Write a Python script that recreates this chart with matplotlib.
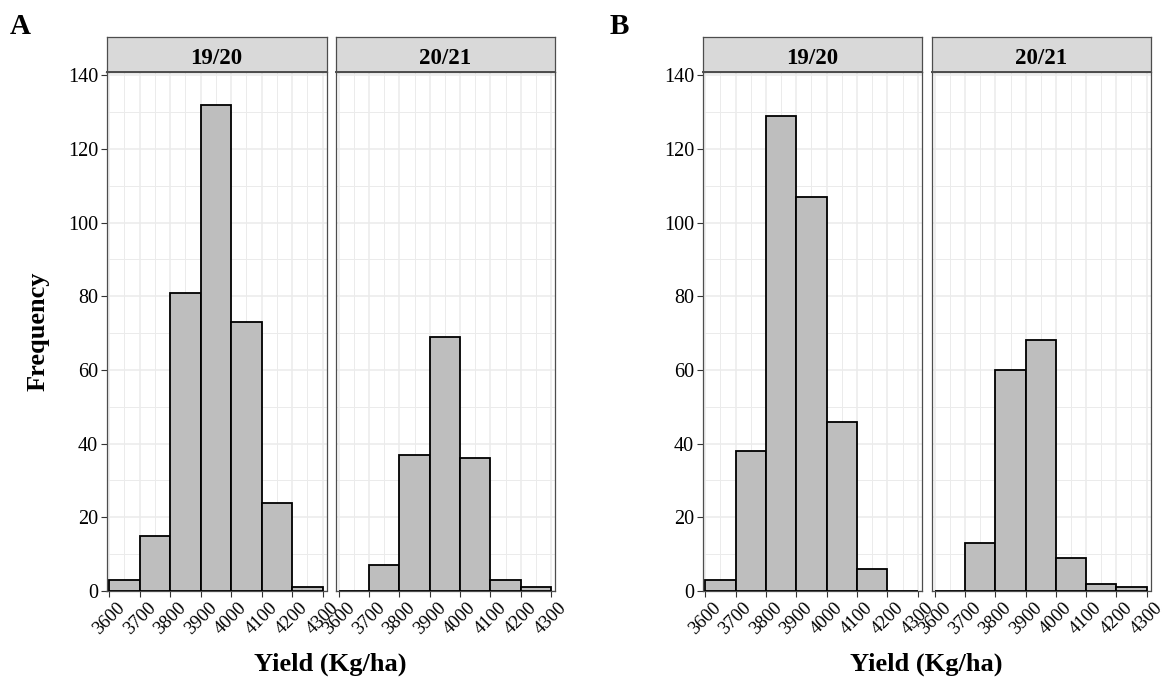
import numpy as np
import matplotlib
matplotlib.use("Agg")
import matplotlib.pyplot as plt
from matplotlib.ticker import MultipleLocator

plt.rcParams['font.family'] = ['Liberation Serif', 'DejaVu Serif']

# bin left edges (binwidth 100)
bin_edges = [3600, 3700, 3800, 3900, 4000, 4100, 4200]
seasons = ["19/20", "20/21"]

# panel A counts
A_1920 = [3, 15, 81, 132, 73, 24, 1]
A_2021 = [0, 7, 37, 69, 36, 3, 1]
# panel B counts
B_1920 = [3, 38, 129, 107, 46, 6, 0]
B_2021 = [0, 13, 60, 68, 9, 2, 1]

x_ticks = [3600, 3700, 3800, 3900, 4000, 4100, 4200, 4300]
y_ticks = [0, 20, 40, 60, 80, 100, 120, 140]

W, H = 1173, 682
fig = plt.figure(figsize=(W / 100, H / 100), dpi=100)

top_px, bot_px, strip_top_px = 71.5, 591.0, 36.7
# facet x spans in pixels
spans = {
    "A": [(106.5, 326.5), (336.0, 555.0)],
    "B": [(702.5, 921.7), (932.3, 1150.5)],
}
data = {"A": [A_1920, A_2021], "B": [B_1920, B_2021]}
border = "#4d4d4d"


def px_rect(x0, x1, y0, y1):
    return [x0 / W, 1 - y1 / H, (x1 - x0) / W, (y1 - y0) / H]


for panel in ["A", "B"]:
    for k, (x0, x1) in enumerate(spans[panel]):
        ax = fig.add_axes(px_rect(x0, x1, top_px, bot_px))
        counts = data[panel][k]
        ax.set_axisbelow(True)
        ax.bar(bin_edges, counts, width=100, align='edge', color='#bebebe',
               edgecolor='black', linewidth=1.3, zorder=3)
        ax.set_xlim(3591, 4313)
        ax.set_ylim(0, 141)
        ax.set_xticks(x_ticks)
        ax.set_xticklabels([str(v) for v in x_ticks], rotation=45,
                           ha='center', va='top', fontsize=13.5)
        ax.xaxis.set_minor_locator(MultipleLocator(50))
        ax.set_yticks(y_ticks)
        ax.yaxis.set_minor_locator(MultipleLocator(10))
        ax.grid(which='major', color='#ebebeb', linewidth=1.1)
        ax.grid(which='minor', color='#ebebeb', linewidth=0.7)
        ax.tick_params(which='minor', length=0)
        ax.tick_params(which='major', length=4, width=0.8, color='#333333',
                       labelsize=13.5, pad=2)
        if k == 0:
            ax.set_yticklabels([str(v) for v in y_ticks], fontsize=14.5)
        else:
            ax.tick_params(axis='y', length=0, labelleft=False)
        for s in ax.spines.values():
            s.set_color(border)
            s.set_linewidth(0.9)

        # strip on top
        sax = fig.add_axes(px_rect(x0, x1, strip_top_px, top_px))
        sax.set_facecolor('#d9d9d9')
        sax.set_xticks([])
        sax.set_yticks([])
        for s in sax.spines.values():
            s.set_color(border)
            s.set_linewidth(0.9)
        sax.spines['bottom'].set_linewidth(1.4)
        sax.text(0.5, 0.36, seasons[k], transform=sax.transAxes, ha='center',
                 va='center', fontsize=16.5, fontweight='bold')

    xa0 = spans[panel][0][0]
    xa1 = spans[panel][1][1]
    fig.text((xa0 + xa1) / 2 / W, 1 - 664 / H, "Yield (Kg/ha)", ha='center',
             va='center', fontsize=19, fontweight='bold')

fig.text(38 / W, 1 - 331 / H, "Frequency", rotation=90, ha='center',
         va='center', fontsize=19, fontweight='bold')
fig.text(10 / W, 1 - 13 / H, "A", ha='left', va='top', fontsize=21,
         fontweight='bold')
fig.text(610 / W, 1 - 13 / H, "B", ha='left', va='top', fontsize=21,
         fontweight='bold')

fig.savefig("out.png", dpi=100)
